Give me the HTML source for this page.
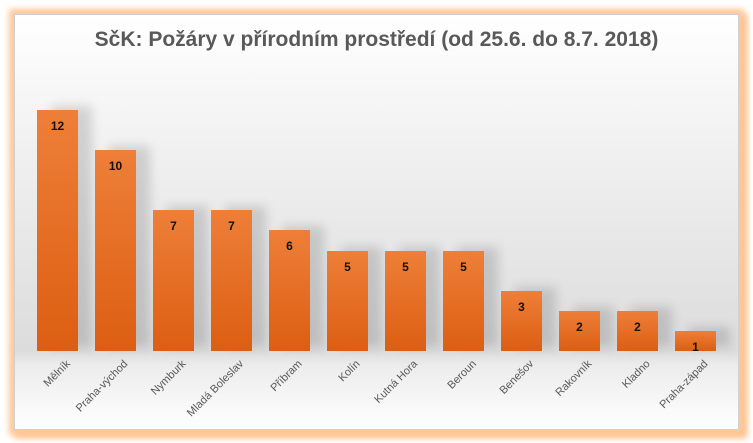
<!DOCTYPE html>
<html><head><meta charset="utf-8"><style>
body{margin:0;width:753px;height:443px;background:#fff;overflow:hidden;font-family:"Liberation Sans",sans-serif}
#p{position:absolute;left:14px;top:14px;width:723px;height:414px;border:1px solid #d0d0d0;box-shadow:0 0 6px 5px #ffc89a,4px 4px 6px 4px #ffc08a;
background:linear-gradient(#ffffff 0px,#f2f2f2 120px,#dcdcdc 336px,#ececec 350px,#ffffff 414px)}
.b{position:absolute;width:41px;background:linear-gradient(#ee7f38,#dc5e12);box-shadow:14px -4px 10px rgba(0,0,0,0.14)}
.v{position:absolute;width:41px;text-align:center;font-size:12px;font-weight:bold;color:#111}
.l{position:absolute;font-size:11px;color:#595959;white-space:nowrap;transform-origin:100% 0;transform:rotate(-45deg)}
</style></head><body>
<div id="p"></div>
<div style="position:absolute;left:0;width:753px;top:28px;text-align:center;font-size:21px;font-weight:bold;color:#595959">SčK: Požáry v přírodním prostředí (od 25.6. do 8.7. 2018)</div>
<div id="c"></div>
<script>
var d=[["Mělník",12],["Praha-východ",10],["Nymburk",7],["Mladá Boleslav",7],["Příbram",6],["Kolín",5],["Kutná Hora",5],["Beroun",5],["Benešov",3],["Rakovník",2],["Kladno",2],["Praha-západ",1]];
var h="";
d.forEach(function(e,i){var x=37+i*58,t=351-e[1]*20.1;
h+='<div class="b" style="left:'+x+'px;top:'+t+'px;height:'+(351-t)+'px"></div>';
h+='<div class="v" style="left:'+x+'px;top:'+(t+9)+'px">'+e[1]+'</div>';
h+='<div class="l" style="right:'+(753-x-27)+'px;top:358px">'+e[0]+'</div>';});
document.getElementById("c").innerHTML=h;
</script>
</body></html>
